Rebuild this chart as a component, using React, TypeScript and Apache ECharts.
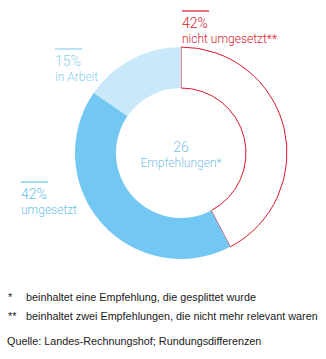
import React, { useEffect, useRef } from "react";
import * as echarts from "echarts";

const categories = ["nicht umgesetzt**", "umgesetzt", "in Arbeit"];
const counts = [11, 11, 4];
const percentLabels = ["42%", "42%", "15%"];
const centerLabels = ["26", "Empfehlungen*"];
const footnotes = [
  ["*", "beinhaltet eine Empfehlung, die gesplittet wurde"],
  ["**", "beinhaltet zwei Empfehlungen, die nicht mehr relevant waren"],
];
const source = "Quelle: Landes-Rechnungshof; Rundungsdifferenzen";

const RED = "#d6182a";
const BLUE = "#72c8f2";
const LIGHT = "#c9e8f9";
const FONT = "Roboto";
const NOTE_FONT = "'Liberation Sans', Arial, sans-serif";

export default function App() {
  const ref = useRef<HTMLDivElement>(null);
  useEffect(() => {
    const chart = echarts.init(ref.current!, undefined, { renderer: "svg" });
    const labelBlock = (x: number, y: number, color: string, pct: string, name: string) => ({
      type: "group",
      children: [
        { type: "line", shape: { x1: x, y1: y, x2: x + 27, y2: y }, style: { stroke: color, lineWidth: 1.2 } },
        { type: "text", x: x, y: y + 5, style: { text: pct, fill: color, font: `300 14px ${FONT}` } },
        { type: "text", x: x, y: y + 22, style: { text: name, fill: color, font: `300 12px ${FONT}` } },
      ],
    });
    chart.setOption({
      animation: false,
      series: [
        {
          type: "pie",
          center: [181, 153],
          radius: [65, 106],
          startAngle: 90,
          clockwise: true,
          silent: true,
          label: { show: false },
          labelLine: { show: false },
          data: categories.map((c, i) => ({
            name: c,
            value: counts[i],
            itemStyle:
              i === 0
                ? { color: "#ffffff", borderColor: RED, borderWidth: 1 }
                : { color: i === 1 ? BLUE : LIGHT, borderWidth: 0 },
          })),
        },
      ],
      graphic: [
        labelBlock(182, 11, RED, percentLabels[0], categories[0]),
        labelBlock(55, 49, "#8ccfef", percentLabels[2], categories[2]),
        labelBlock(21, 182, "#6cc0ea", percentLabels[1], categories[1]),
        { type: "text", x: 181, y: 147, style: { text: centerLabels[0], fill: "#7dbfe8", font: `300 14px ${FONT}`, align: "center", verticalAlign: "middle" } },
        { type: "text", x: 181, y: 163, style: { text: centerLabels[1], fill: "#7dbfe8", font: `300 12px ${FONT}`, align: "center", verticalAlign: "middle" } },
        ...footnotes.flatMap((f, i) => [
          { type: "text", x: 8, y: 297 + i * 19, style: { text: f[0], fill: "#1a1a1a", font: `10.8px ${NOTE_FONT}`, verticalAlign: "middle" } },
          { type: "text", x: 26, y: 297 + i * 19, style: { text: f[1], fill: "#1a1a1a", font: `10.8px ${NOTE_FONT}`, verticalAlign: "middle" } },
        ]),
        { type: "text", x: 7, y: 341, style: { text: source, fill: "#1a1a1a", font: `10.8px ${NOTE_FONT}`, verticalAlign: "middle" } },
      ],
    });
    return () => chart.dispose();
  }, []);
  return <div ref={ref} style={{ position: "fixed", left: 0, top: 0, width: 326, height: 359, background: "#fff" }} />;
}
